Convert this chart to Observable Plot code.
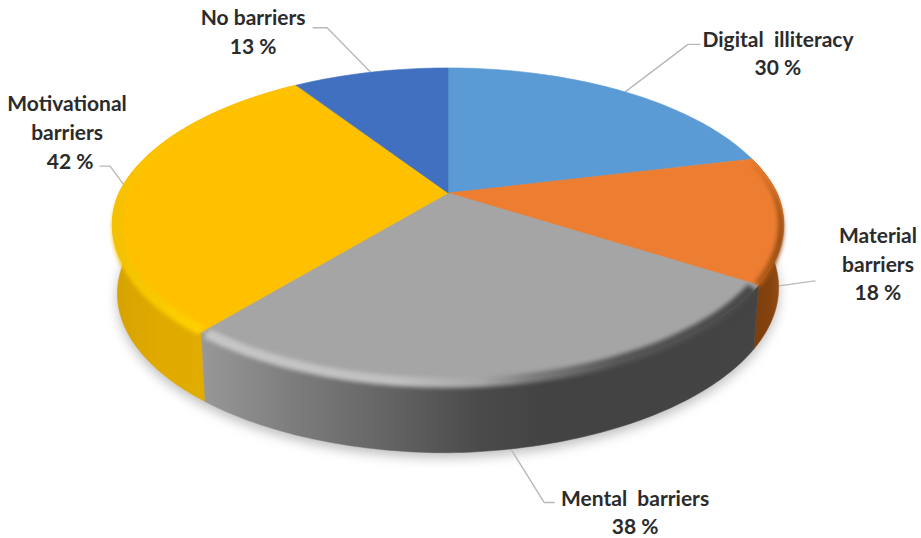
<!DOCTYPE html>
<html>
<head>
<meta charset="utf-8">
<script src="https://cdn.jsdelivr.net/npm/d3@7"></script>
<script src="https://cdn.jsdelivr.net/npm/@observablehq/plot@0.6"></script>
<style>
  html, body { margin: 0; padding: 0; background: #fff; }
  svg { display: block; }
</style>
</head>
<body>
<div id="chart"></div>
<script>
// Survey shares, in drawing order clockwise from twelve o'clock.
const categories = ["Digital illiteracy", "Material barriers", "Mental barriers", "Motivational barriers", "No barriers"];
const shares = [30, 18, 38, 42, 13];
const labelLines = [["Digital  illiteracy"], ["Material", "barriers"], ["Mental  barriers"], ["Motivational", "barriers"], ["No barriers"]];

// Slice colours.
const topColors = ["#5b9bd5", "#ed7d31", "#a5a5a5", "#ffc000", "#4270c0"];

// The wall and the rounded rim shade from left to right.
const gradients = {
  "wall-1": [[0, "#7a3c0c"], [0.6, "#84420f"], [1, "#9c5216"]],
  "wall-2": [[0, "#989898"], [0.17, "#7c7c7c"], [0.35, "#626262"], [0.5, "#4a4a4a"], [0.62, "#434343"], [1, "#444444"]],
  "wall-3": [[0, "#d6a200"], [0.25, "#e0aa00"], [1, "#e4b000"]],
  "rim-1": [[0, "#b8601c"], [0.5, "#a85614"], [1, "#8a4a14"]],
  "rim-2": [[0, "#c6c6c6"], [0.35, "#c0c0c0"], [0.5, "#a6a6a6"], [0.6, "#7a7a7a"], [0.75, "#555555"], [1, "#484848"]],
  "rim-3": [[0, "#f2c000"], [0.5, "#ffd200"], [1, "#ffdc00"]]
};

// Perspective of the tilted disc.
const FAR = 0.2236;            // foreshortening towards the back edge
const X_UNIT = 329, Y_UNIT = 153;   // pixels per unit of the two positional scales
const APEX_X = 448, APEX_Y = 193;   // where the slices meet on the page
const WIDTH = 921, HEIGHT = 538;
const TAPER = 0.985;           // the lower face looks slightly narrower
const FRONT_LOSS = 0.025;      // the rounded edge eats into the top face at the front

const total = d3.sum(shares);
const toRad = deg => deg * Math.PI / 180;

// Angular extent of each slice, derived from the shares.
let running = 0;
const slices = categories.map((name, i) => {
  const a0 = running / total * 360;
  running += shares[i];
  const a1 = running / total * 360;
  return {name, share: shares[i], i, a0, a1, mid: (a0 + a1) / 2};
});

// Radius of the top face's edge at a given angle.
const edge = deg => 1 - FRONT_LOSS * Math.max(0, -Math.cos(toRad(deg)));

// Thickness of the disc at a given angle; a little thinner on the far-right side.
const thickness = deg => (69 - 6 * Math.max(0, Math.sin(toRad(deg)))) / Y_UNIT;

// Unit-disc point on a circle of radius r, optionally pushed down and narrowed.
function project(deg, r = 1, drop = 0, taper = 1) {
  const X = r * Math.sin(toRad(deg)), Y = r * Math.cos(toRad(deg));
  const s = 1 / (1 + FAR * Y);
  return [X * s * taper, Y * s - drop];
}
const topPoint = deg => project(deg, edge(deg));
const bottomPoint = (deg, extra = 0) => project(deg, edge(deg), thickness(deg) + extra, TAPER);

function arc(a0, a1, fn) {
  const n = Math.max(2, Math.ceil(Math.abs(a1 - a0)));
  return d3.range(n + 1).map(k => fn(a0 + (a1 - a0) * k / n));
}

// Band between two curves that follow the circle.
const band = (a0, a1, outer, inner) => arc(a0, a1, a => {
  const [x1, y1] = outer(a);
  const [x2, y2] = inner(a);
  return {x1, y1, x2, y2};
});

const areaOf = (data, options) => Plot.area(data, {x1: "x1", y1: "y1", x2: "x2", y2: "y2", curve: "linear", ...options});

// Ground shadow under the disc.
const shadow = areaOf(
  band(0, 360, a => bottomPoint(a, 5 / Y_UNIT), () => [0, -60 / Y_UNIT]),
  {fill: "#a8a8a8", fillOpacity: 0.75, imageFilter: "blur(6px)"}
);

// Outer walls of the slices that face the viewer.
const walls = slices.slice(1, 4).map(s =>
  areaOf(band(s.a0, s.a1, bottomPoint, topPoint), {fill: `url(#wall-${s.i})`, stroke: `url(#wall-${s.i})`, strokeWidth: 0.5})
);

// Flat top face.
const faces = slices.map(s =>
  areaOf(band(s.a0, s.a1, topPoint, () => [0, 0]), {fill: topColors[s.i], stroke: topColors[s.i], strokeWidth: 0.6})
);

// Soft rounded edge between top face and wall.
const rims = slices.slice(1, 4).map(s =>
  areaOf(band(s.a0 + 0.6, s.a1 - 0.6,
    a => project(a, edge(a), 4 / Y_UNIT),
    a => project(a, edge(a) * (s.i === 1 ? 0.985 : 0.975))), {
    fill: `url(#rim-${s.i})`,
    imageFilter: "blur(2.2px)"
  })
);

// Where each leader leaves the disc; the lower-face ones start on the bottom edge.
const leaderLower = [false, true, true, false, false];
// Leader path from that point towards its label, in pixels.
const leaderPath = [
  [[0, 3], [66, -47], [78, -47]],
  [[0, 3], [36, -2]],
  [[0, 0], [33, 53], [43, 53]],
  [[0, 0], [-14, -19], [-24, -19]],
  [[0, 0], [-44, -45], [-58, -45]]
];
// Centre of the label's first line and of its percentage, relative to that point.
const labelOffset = [[156, -51], [99, -47], [124, 50], [-57, -81], [-118, -54]];
const percentOffset = [[156, -23], [99, 10], [124, 78], [-54, -23], [-118, -25]];
const LINE_STEP = 29;

const anchor = s => leaderLower[s.i] ? bottomPoint(s.mid) : project(s.mid);

const leaderRows = slices.flatMap(s => {
  const [ax, ay] = anchor(s);
  return leaderPath[s.i].map(([dx, dy]) => ({
    name: s.name, x: ax + dx / X_UNIT, y: ay - dy / Y_UNIT
  }));
});

const textStyle = {
  fontFamily: "Lato, 'Open Sans', sans-serif",
  fontWeight: 700,
  fontSize: 21,
  fill: "#2b2b2b",
  textAnchor: "middle",
  lineAnchor: "middle"
};

const labels = slices.flatMap(s => {
  const [ax, ay] = anchor(s);
  const row = {x: ax, y: ay};
  return [
    ...labelLines[s.i].map((line, k) =>
      Plot.text([row], {x: "x", y: "y", text: () => line, dx: labelOffset[s.i][0], dy: labelOffset[s.i][1] + k * LINE_STEP, ...textStyle})
    ),
    Plot.text([row], {x: "x", y: "y", text: () => `${s.share} %`, dx: percentOffset[s.i][0], dy: percentOffset[s.i][1], ...textStyle})
  ];
});

// Gradient definitions used by the walls and rims.
const defs = () => {
  const g = d3.create("svg:defs");
  for (const [id, stops] of Object.entries(gradients)) {
    const lg = g.append("svg:linearGradient").attr("id", id);
    for (const [offset, color] of stops) {
      lg.append("svg:stop").attr("offset", offset).attr("stop-color", color);
    }
  }
  return g.node();
};

const chart = Plot.plot({
  width: WIDTH,
  height: HEIGHT,
  margin: 0,
  x: {domain: [-APEX_X / X_UNIT, (WIDTH - APEX_X) / X_UNIT], range: [0, WIDTH], axis: null},
  y: {domain: [APEX_Y / Y_UNIT, (APEX_Y - HEIGHT) / Y_UNIT], range: [0, HEIGHT], axis: null},
  style: {background: "#ffffff"},
  marks: [
    defs,
    shadow,
    Plot.line(leaderRows, {x: "x", y: "y", z: "name", stroke: "#b9b9b9", strokeWidth: 1.4, curve: "linear"}),
    ...walls,
    ...faces,
    ...rims,
    ...labels
  ]
});

document.getElementById("chart").appendChild(chart);
</script>
</body>
</html>
